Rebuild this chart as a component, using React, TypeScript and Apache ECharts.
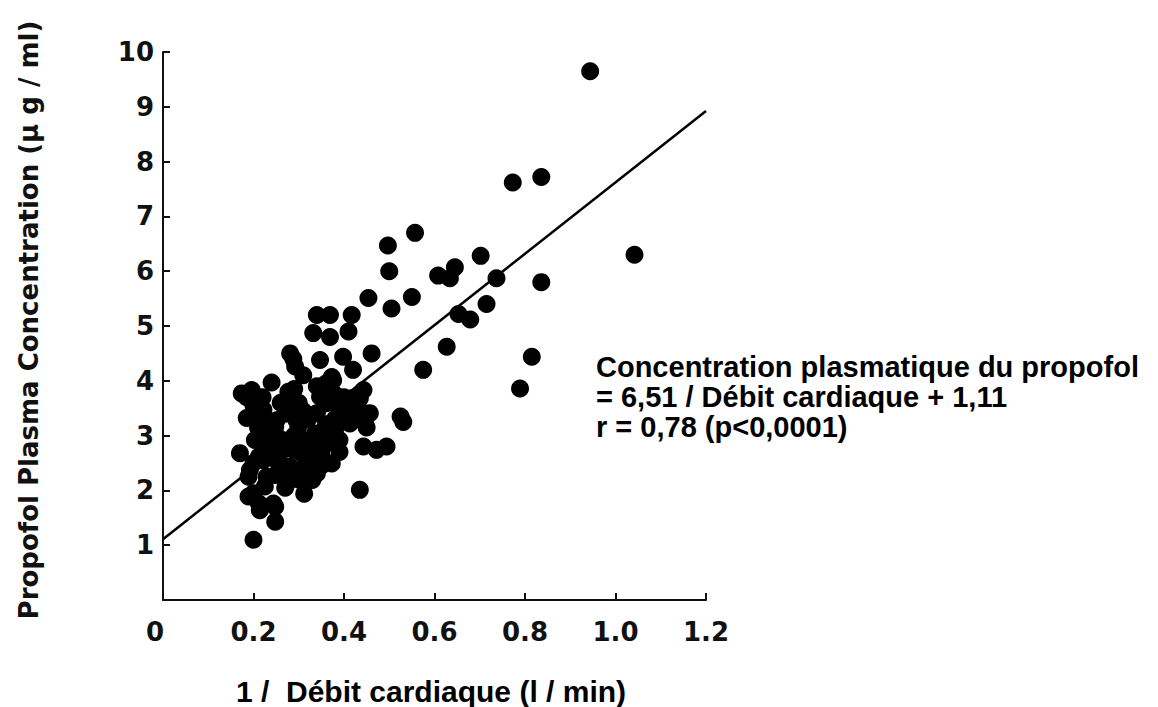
import React, { useEffect, useRef } from "react";
import * as echarts from "echarts";

const xTicks = [0, 0.2, 0.4, 0.6, 0.8, 1.0, 1.2];
const yTicks = [0, 1, 2, 3, 4, 5, 6, 7, 8, 9, 10];

// 1 / cardiac output
const invCardiacOutput = [
  0.944, 0.773, 0.836, 0.557, 0.497, 0.5, 0.702, 0.645, 0.608, 0.634,
  0.737, 1.042, 0.836, 0.55, 0.715, 0.653, 0.679, 0.627, 0.815, 0.789,
  0.454, 0.505, 0.575, 0.461, 0.525, 0.531, 0.443, 0.472, 0.494, 0.435,
  0.34, 0.369, 0.417, 0.332, 0.369, 0.41, 0.281, 0.292, 0.288, 0.347,
  0.398, 0.42, 0.373, 0.24, 0.174, 0.196, 0.185, 0.277, 0.354, 0.443,
  0.435, 0.417, 0.376, 0.347, 0.34, 0.361, 0.369, 0.457, 0.446, 0.413,
  0.185, 0.222, 0.251, 0.295, 0.406, 0.248, 0.299, 0.383, 0.264, 0.31,
  0.39, 0.34, 0.336, 0.354, 0.17, 0.203, 0.212, 0.306, 0.288, 0.34,
  0.27, 0.281, 0.314, 0.303, 0.192, 0.325, 0.251, 0.222, 0.373, 0.189,
  0.229, 0.248, 0.225, 0.33, 0.281, 0.34, 0.312, 0.189, 0.2, 0.212,
  0.244, 0.248, 0.214, 0.248, 0.2,
  0.2, 0.22, 0.26, 0.28, 0.3, 0.31, 0.32, 0.27, 0.23, 0.21,
  0.24, 0.29, 0.32, 0.35, 0.36, 0.38, 0.385, 0.38, 0.36, 0.32,
  0.26, 0.23, 0.2, 0.3, 0.27, 0.35, 0.29, 0.31, 0.34, 0.395,
  0.43, 0.45, 0.39, 0.37, 0.33, 0.25, 0.22, 0.36, 0.4, 0.42
];

// Propofol plasma concentration (µg/ml)
const propofolConc = [
  9.65, 7.62, 7.72, 6.7, 6.47, 6.0, 6.28, 6.07, 5.92, 5.87,
  5.87, 6.3, 5.8, 5.53, 5.4, 5.22, 5.12, 4.62, 4.44, 3.86,
  5.51, 5.32, 4.2, 4.5, 3.35, 3.25, 2.8, 2.74, 2.8, 2.01,
  5.2, 5.2, 5.2, 4.87, 4.8, 4.9, 4.5, 4.26, 4.4, 4.38,
  4.44, 4.2, 4.07, 3.97, 3.77, 3.83, 3.7, 3.8, 3.74, 3.83,
  3.68, 3.68, 4.01, 3.71, 3.41, 3.59, 3.22, 3.41, 3.25, 3.22,
  3.32, 3.47, 3.28, 3.28, 3.28, 3.16, 3.16, 3.16, 2.92, 2.92,
  2.92, 2.92, 3.04, 3.04, 2.68, 2.92, 2.62, 2.68, 2.74, 2.8,
  2.43, 2.43, 2.37, 2.37, 2.37, 2.55, 2.55, 2.55, 2.49, 2.25,
  2.25, 2.28, 2.07, 2.19, 2.19, 2.31, 1.94, 1.89, 1.95, 1.76,
  1.76, 1.7, 1.64, 1.43, 1.1,
  3.55, 3.7, 3.6, 3.5, 3.6, 3.45, 3.3, 3.4, 3.1, 3.15,
  2.9, 3.0, 2.85, 2.65, 2.85, 3.3, 3.55, 3.75, 3.95, 2.65,
  2.7, 2.75, 2.5, 2.2, 2.05, 2.45, 3.85, 4.1, 3.9, 3.5,
  3.55, 3.15, 2.7, 2.95, 2.5, 3.0, 3.35, 3.2, 3.7, 3.45
];

const slope = 6.51;
const intercept = 1.11;
const lineX = [0, 1.2];

const annotationLines = [
  "Concentration plasmatique du propofol",
  "= 6,51 / Débit cardiaque + 1,11",
  "r = 0,78 (p<0,0001)",
];
const yTitle = "Propofol Plasma Concentration (\u03bc g / ml)";
const xTitle = "1 /  Débit cardiaque (l / min)";

export default function App() {
  const ref = useRef<HTMLDivElement>(null);
  useEffect(() => {
    if (!ref.current) return;
    const chart = echarts.init(ref.current, null, { renderer: "svg" });
    const points = invCardiacOutput.map((x, i) => [x, propofolConc[i]]);
    const linePts = lineX.map((x) => [x, slope * x + intercept]);
    const tickFont = {
      fontFamily: "DejaVu Sans",
      fontWeight: "bold" as const,
      fontSize: 26,
      color: "#111",
    };
    chart.setOption({
      animation: false,
      backgroundColor: "#ffffff",
      grid: { left: 163, right: 452, top: 52, bottom: 107, containLabel: false },
      xAxis: {
        type: "value",
        min: 0,
        max: 1.2,
        interval: 0.2,
        axisLine: { show: true, onZero: false, lineStyle: { color: "#111", width: 2 } },
        axisTick: { show: true, inside: true, length: 7, lineStyle: { color: "#111", width: 2 } },
        splitLine: { show: false },
        axisLabel: {
          ...tickFont,
          margin: 19,
          formatter: (v: number) => (v === 0 ? "{z|0}" : v.toFixed(1)),
          rich: {
            z: { ...tickFont, padding: [0, 16, 0, 0] },
          },
        },
      },
      yAxis: {
        type: "value",
        min: 0,
        max: 10,
        interval: 1,
        name: yTitle,
        nameLocation: "middle",
        nameGap: 121,
        nameRotate: 90,
        nameTextStyle: {
          fontFamily: "DejaVu Sans",
          fontWeight: "bold",
          fontSize: 26,
          color: "#111",
          padding: [0, 0, 0, 12],
        },
        axisLine: { show: true, onZero: false, lineStyle: { color: "#111", width: 2 } },
        axisTick: { show: true, inside: true, length: 7, lineStyle: { color: "#111", width: 2 } },
        splitLine: { show: false },
        axisLabel: {
          ...tickFont,
          margin: 9,
          showMinLabel: false,
          formatter: (v: number) => (v === 0 ? "" : String(v)),
        },
      },
      series: [
        {
          type: "scatter",
          data: points,
          symbol: "circle",
          symbolSize: 18,
          itemStyle: { color: "#000", opacity: 1 },
          z: 3,
        },
        {
          type: "line",
          data: linePts,
          symbol: "none",
          lineStyle: { color: "#000", width: 2.5 },
          z: 2,
        },
      ],
      graphic: [
        {
          type: "text",
          left: 596,
          top: 352,
          style: {
            text: annotationLines.join("\n"),
            font: "bold 29px 'Liberation Sans', Arial, sans-serif",
            lineHeight: 30,
            fill: "#000",
          },
        },
        {
          type: "text",
          x: 431,
          y: 691,
          style: {
            text: xTitle,
            font: "bold 30px 'Liberation Sans', Arial, sans-serif",
            fill: "#000",
            align: "center",
            verticalAlign: "middle",
          },
        },
      ],
    });
    return () => chart.dispose();
  }, []);
  return <div ref={ref} style={{ width: 1158, height: 707, position: "absolute", left: 0, top: 0 }} />;
}
